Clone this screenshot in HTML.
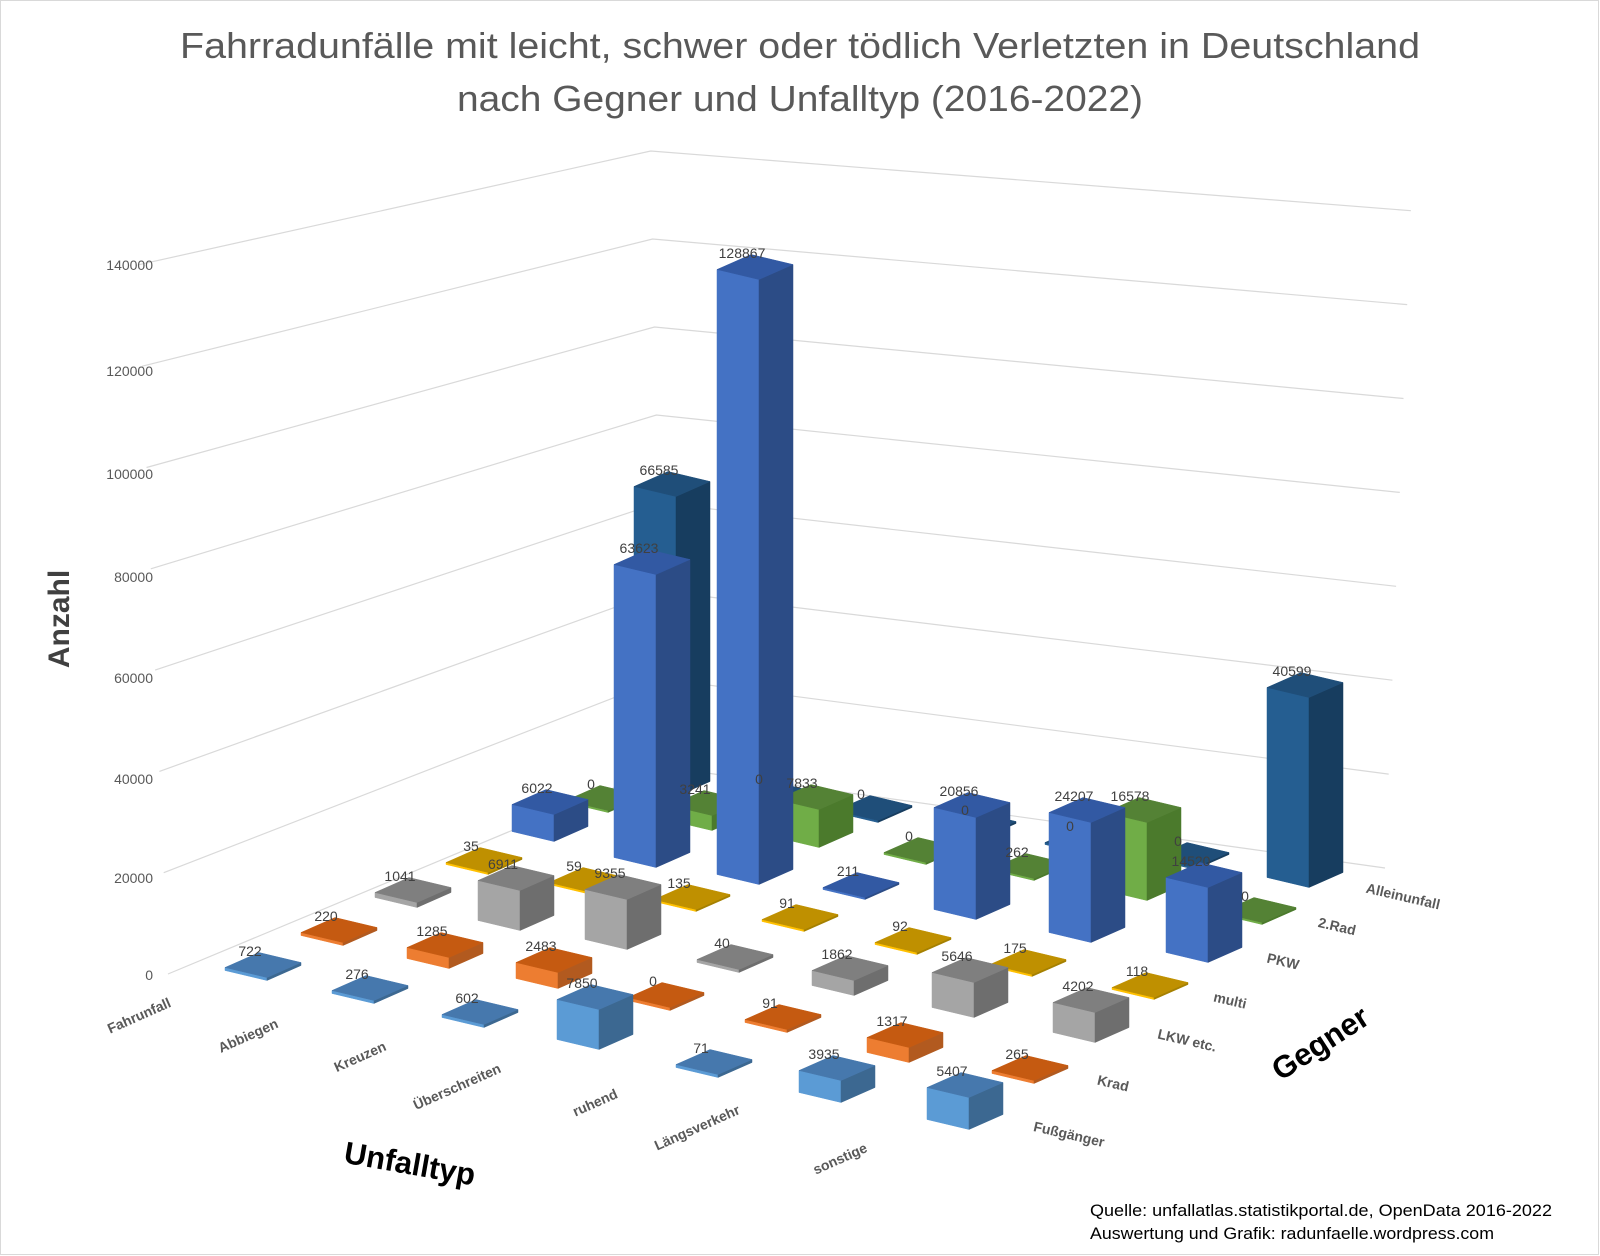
<!DOCTYPE html>
<html><head><meta charset="utf-8"><style>
html,body{margin:0;padding:0;background:#fff;}
svg{display:block;font-family:"Liberation Sans",sans-serif;}
</style></head><body>
<svg id="s" width="1600" height="1256" viewBox="0 0 1600 1256" xmlns="http://www.w3.org/2000/svg">
<rect x="0.5" y="0.5" width="1598" height="1254" fill="#fff" stroke="#d9d9d9"/>
<text x="800" y="58" text-anchor="middle" font-size="36" fill="#595959" textLength="1240" lengthAdjust="spacingAndGlyphs">Fahrradunfälle mit leicht, schwer oder tödlich Verletzten in Deutschland</text>
<text x="800" y="111" text-anchor="middle" font-size="36" fill="#595959" textLength="686" lengthAdjust="spacingAndGlyphs">nach Gegner und Unfalltyp (2016-2022)</text>
<g id="grid" fill="none" stroke="#d9d9d9" stroke-width="1.2"></g>
<g font-size="14" fill="#595959" text-anchor="end">
<text x="153" y="980">0</text>
<text x="153" y="883">20000</text>
<text x="153" y="784">40000</text>
<text x="153" y="683">60000</text>
<text x="153" y="582">80000</text>
<text x="153" y="479">100000</text>
<text x="153" y="376">120000</text>
<text x="153" y="270">140000</text>
</g>
<text transform="translate(69,619) rotate(-90)" text-anchor="middle" font-size="30" font-weight="bold" fill="#404040">Anzahl</text>
<g id="bars"></g>
<g font-size="14" fill="#404040" text-anchor="middle">
<text x="659" y="475">66585</text><text x="759" y="784">0</text><text x="861" y="799">0</text><text x="965" y="815">0</text><text x="1070" y="831">0</text><text x="1178" y="846">0</text><text x="1292" y="676">40599</text>
<text x="591" y="789">0</text><text x="695" y="794">3241</text><text x="802" y="788">7833</text><text x="909" y="841">0</text><text x="1017" y="857">262</text><text x="1130" y="801">16578</text><text x="1245" y="901">0</text>
<text x="537" y="793">6022</text><text x="639" y="553">63623</text><text x="742" y="258">128867</text><text x="848" y="876">211</text><text x="959" y="796">20856</text><text x="1074" y="801">24207</text><text x="1191" y="866">14520</text>
<text x="471" y="851">35</text><text x="574" y="871">59</text><text x="679" y="888">135</text><text x="787" y="908">91</text><text x="900" y="931">92</text><text x="1015" y="953">175</text><text x="1137" y="976">118</text>
<text x="400" y="881">1041</text><text x="503" y="869">6911</text><text x="610" y="878">9355</text><text x="722" y="948">40</text><text x="837" y="959">1862</text><text x="957" y="961">5646</text><text x="1078" y="991">4202</text>
<text x="326" y="921">220</text><text x="432" y="936">1285</text><text x="541" y="951">2483</text><text x="653" y="986">0</text><text x="770" y="1008">91</text><text x="892" y="1026">1317</text><text x="1017" y="1059">265</text>
<text x="250" y="956">722</text><text x="357" y="979">276</text><text x="467" y="1003">602</text><text x="582" y="988">7850</text><text x="701" y="1053">71</text><text x="824" y="1059">3935</text><text x="952" y="1076">5407</text>
</g>
<g font-size="14" font-weight="bold" fill="#595959" text-anchor="middle">
<text transform="translate(141,1020) rotate(-24)">Fahrunfall</text>
<text transform="translate(250,1040) rotate(-24)">Abbiegen</text>
<text transform="translate(362,1061) rotate(-24)">Kreuzen</text>
<text transform="translate(459,1091) rotate(-24)">Überschreiten</text>
<text transform="translate(597,1107) rotate(-24)">ruhend</text>
<text transform="translate(699,1132) rotate(-24)">Längsverkehr</text>
<text transform="translate(842,1163) rotate(-24)">sonstige</text>
<text transform="translate(1402,901) rotate(13)">Alleinunfall</text>
<text transform="translate(1336,931) rotate(13)">2.Rad</text>
<text transform="translate(1282,966) rotate(13)">PKW</text>
<text transform="translate(1229,1005) rotate(13)">multi</text>
<text transform="translate(1186,1045) rotate(13)">LKW etc.</text>
<text transform="translate(1112,1088) rotate(13)">Krad</text>
<text transform="translate(1068,1139) rotate(13)">Fußgänger</text>
</g>
<text transform="translate(408,1174) rotate(10)" text-anchor="middle" font-size="31" font-weight="bold" fill="#000">Unfalltyp</text>
<text transform="translate(1326,1052) rotate(-33)" text-anchor="middle" font-size="31" font-weight="bold" fill="#000">Gegner</text>
<g font-size="17" fill="#000">
<text x="1090" y="1216" textLength="462" lengthAdjust="spacingAndGlyphs">Quelle: unfallatlas.statistikportal.de, OpenData 2016-2022</text>
<text x="1090" y="1239" textLength="404" lengthAdjust="spacingAndGlyphs">Auswertung und Grafik: radunfaelle.wordpress.com</text>
</g>
</svg>
<script>
(function(){
var NS="http://www.w3.org/2000/svg";
var grid=document.getElementById("grid");
for(var k=0;k<8;k++){
 var p=document.createElementNS(NS,"polyline");
 var pts=[[168-4.3*k,974-101.3*k],[664-1.9*k,767-88*k],[1385+3.7*k,868-93.9*k]];
 p.setAttribute("points",pts.map(function(q){return q[0].toFixed(1)+","+q[1].toFixed(1);}).join(" "));
 grid.appendChild(p);
}
var C=[
 ["#255e91","#1f4e79","#173d5f"],
 ["#70ad47","#548235","#4b7a2c"],
 ["#4472c4","#3259a3","#2c4c86"],
 ["#ffc000","#bf9000","#a58000"],
 ["#a5a5a5","#7f7f7f","#6e6e6e"],
 ["#ed7d31","#c55a11","#b25a1f"],
 ["#5b9bd5","#4678ad","#3c6891"]
];
var D=[
 [[672,484,300],[772,793,2],[874,808,2],[978,824,2],[1083,840,2],[1191,855,2],[1305,685,190]],
 [[604,798,2],[708,803,15],[815,797,38],[922,850,2],[1030,866,2],[1143,810,78],[1258,910,2]],
 [[550,802,27],[652,562,293],[755,267,605],[861,885,2],[972,805,102],[1087,810,120],[1204,875,75]],
 [[484,860,2],[587,880,2],[692,897,2],[800,917,2],[913,940,2],[1028,962,2],[1150,985,2]],
 [[413,890,5],[516,878,40],[623,887,50],[735,957,3],[850,968,15],[970,970,35],[1091,1000,30]],
 [[339,930,3],[445,945,11],[554,960,16],[666,995,3],[783,1017,3],[905,1035,15],[1030,1068,3]],
 [[263,965,3],[370,988,3],[480,1012,3],[595,997,40],[714,1062,3],[837,1068,22],[965,1085,32]]
];
var ax=21,ay=5,bx=17,by=-7.5;
var g=document.getElementById("bars");
function poly(pts,fill){var p=document.createElementNS(NS,"polygon");p.setAttribute("points",pts.map(function(q){return q[0].toFixed(1)+","+q[1].toFixed(1);}).join(" "));p.setAttribute("fill",fill);p.setAttribute("stroke",fill);p.setAttribute("stroke-width","0.5");g.appendChild(p);}
for(var r=0;r<7;r++){for(var c=0;c<7;c++){
 var d=D[r][c],cx=d[0],ty=d[1],h=d[2],col=C[r];
 var FL=[cx-ax-bx,ty-ay-by],FR=[cx+ax-bx,ty+ay-by],BR=[cx+ax+bx,ty+ay+by],BL=[cx-ax+bx,ty-ay+by];
 poly([FL,FR,[FR[0],FR[1]+h],[FL[0],FL[1]+h]],col[0]);
 poly([FR,BR,[BR[0],BR[1]+h],[FR[0],FR[1]+h]],col[2]);
 poly([FL,FR,BR,BL],col[1]);
}}
})();
</script>
</body></html>
